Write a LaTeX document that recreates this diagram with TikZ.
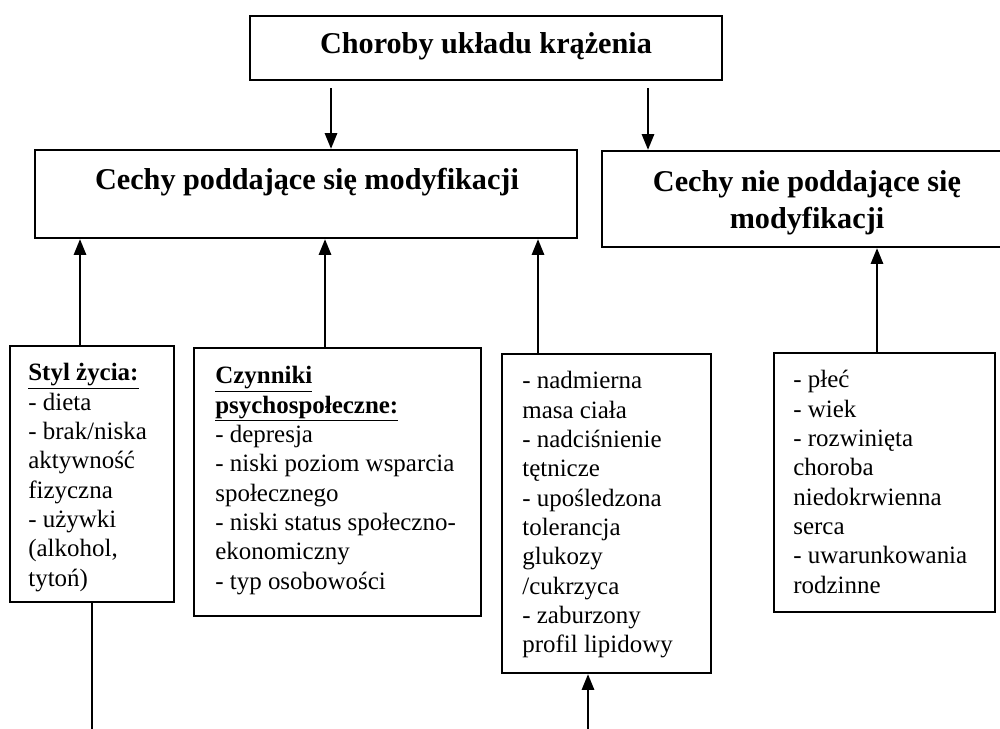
\documentclass[tikz,border=0pt]{standalone}
\usepackage{fontspec}
\setmainfont{Liberation Serif}
\usetikzlibrary{arrows.meta,fit}
\begin{document}
\begin{tikzpicture}[x=0.02cm,y=-0.02cm,
  box/.style={draw, line width=1.3pt, inner sep=0pt},
  head/.style={font=\bfseries\fontsize{17.2}{21}\selectfont, align=center, inner sep=0pt},
  body/.style={font=\fontsize{14.2}{16.7}\selectfont, align=left, inner sep=0pt, anchor=north west},
  arr/.style={line width=1.2pt, -{Triangle[length=9pt,width=7pt]}},
  link/.style={line width=1.2pt}]
\useasboundingbox (0,0) rectangle (1000,729);
\fill[white] (0,0) rectangle (1000,729);

% upper level boxes
\node[box, fit={(250,16) (722,80)}] (top) {};
\node[head, anchor=base] (ttop) at (486,54) {Choroby układu krążenia};

\node[box, fit={(35,150) (577,238)}] (mod) {};
\node[head, anchor=base] (tmod) at (307,190) {Cechy poddające się modyfikacji};

\node[box, fit={(602,151) (1004,247)}] (non) {};
\node[head, anchor=north] (tnon) at (807,170) {Cechy nie poddające się\\modyfikacji};

% lower level boxes
\node[box, fit={(10,346) (174,602)}] (styl) {};
\node[body] (tstyl) at (28,363) {\underline{\textbf{Styl życia:}}\\
- dieta\\
- brak/niska\\
aktywność\\
fizyczna\\
- używki\\
(alkohol,\\
tytoń)};

\node[box, fit={(194,348) (481,616)}] (psy) {};
\node[body] (tpsy) at (215,366) {\underline{\textbf{Czynniki}}\\
\underline{\textbf{psychospołeczne:}}\\
- depresja\\
- niski poziom wsparcia\\
społecznego\\
- niski status społeczno-\\
ekonomiczny\\
- typ osobowości};

\node[box, fit={(502,354) (711,673)}] (bio) {};
\node[body] (tbio) at (522,371) {- nadmierna\\
masa ciała\\
- nadciśnienie\\
tętnicze\\
- upośledzona\\
tolerancja\\
glukozy\\
/cukrzyca\\
- zaburzony\\
profil lipidowy};

\node[box, fit={(774,353) (995,612)}] (fix) {};
\node[body] (tfix) at (793,370) {- płeć\\
- wiek\\
- rozwinięta\\
choroba\\
niedokrwienna\\
serca\\
- uwarunkowania\\
rodzinne};

% connector positions
\coordinate (xa) at (331,0);
\coordinate (xb) at (648,0);
\coordinate (x1) at (80,0);
\coordinate (x2) at (325,0);
\coordinate (x3) at (538,0);
\coordinate (x4) at (877,0);
\coordinate (x5) at (92,0);
\coordinate (x6) at (588,0);
\coordinate (ends) at (92,729);
\coordinate (endb) at (588,729);

\draw[arr] ([yshift=-4]top.south -| xa) -- (mod.north -| xa);
\draw[arr] ([yshift=-4]top.south -| xb) -- (non.north -| xb);
\draw[arr] (styl.north -| x1) -- (mod.south -| x1);
\draw[arr] (psy.north -| x2) -- (mod.south -| x2);
\draw[arr] (bio.north -| x3) -- (mod.south -| x3);
\draw[arr] (fix.north -| x4) -- (non.south -| x4);
\draw[link] (styl.south -| x5) -- (ends);
\draw[arr] (endb) -- (bio.south -| x6);
\end{tikzpicture}
\end{document}
